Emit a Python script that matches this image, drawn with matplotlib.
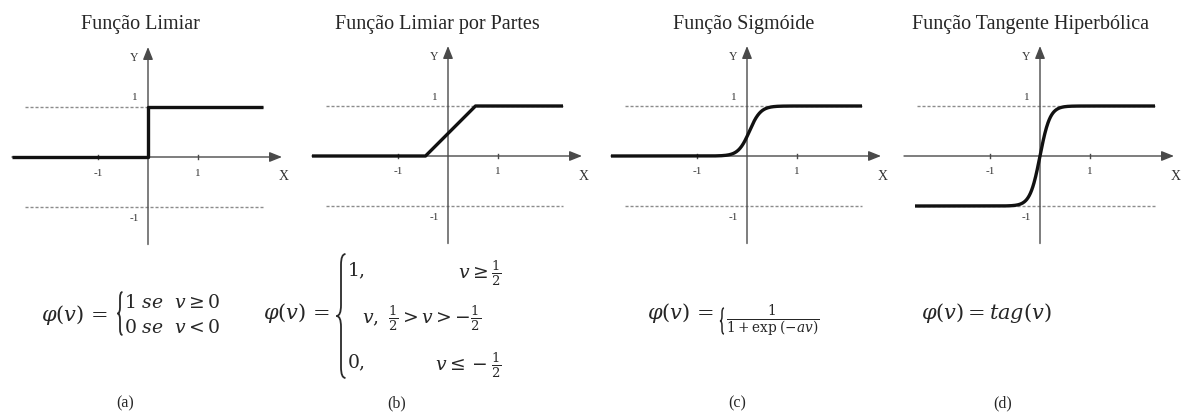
import numpy as np
import matplotlib
matplotlib.use("Agg")
import matplotlib.pyplot as plt
from matplotlib.path import Path
from matplotlib.patches import PathPatch

plt.rcParams["mathtext.fontset"] = "dejavuserif"
plt.rcParams["font.family"] = ["Liberation Serif", "DejaVu Serif"]

W, H = 1181, 414

# ---- data -------------------------------------------------------------
titles = ["Função Limiar", "Função Limiar por Partes",
          "Função Sigmóide", "Função Tangente Hiperbólica"]
panel_tags = ["(a)", "(b)", "(c)", "(d)"]

# threshold (step) function: breakpoints
step_x = [-2.72, 0.0, 0.0, 2.3]
step_y = [0.0, 0.0, 1.0, 1.0]

# piecewise-linear function: breakpoints
ramp_x = [-2.72, -0.45, 0.55, 2.3]
ramp_y = [0.0, 0.0, 1.0, 1.0]

# sigmoid: slope parameter and centre
sig_a, sig_c = 9.0, 0.05
sig_range = (-2.72, 2.3)

# hyperbolic tangent: slope parameter
tanh_k = 5.0
tanh_range = (-2.5, 2.3)

x_ticks = [-1, 1]
y_ticks = [-1, 1]

# ---- layout helpers ---------------------------------------------------
UNIT = 50.0                      # pixels per data unit
XLIM = (-2.9, 2.9)
YLIM = (-1.9, 2.45)


def fx(x):
    return x / W


def fy(y):
    return 1 - y / H


def make_axes(fig, ox, oy):
    left = ox + XLIM[0] * UNIT
    bottom = (H - oy) + YLIM[0] * UNIT
    ax = fig.add_axes([left / W, bottom / H,
                       (XLIM[1] - XLIM[0]) * UNIT / W,
                       (YLIM[1] - YLIM[0]) * UNIT / H])
    ax.set_xlim(*XLIM)
    ax.set_ylim(*YLIM)
    ax.axis("off")
    return ax


def draw_frame(ax, ylab="Y"):
    axis_col = "#4a4a4a"
    lab_col = "#333333"
    # dashed guides at +-1
    for yv in y_ticks:
        ax.plot([-2.45, 2.3], [yv, yv], color="#8c8c8c", lw=1.0,
                dashes=(2.2, 1.4), zorder=1)
    # axes with arrow heads
    ax.annotate("", xy=(2.68, 0), xytext=(-2.72, 0),
                arrowprops=dict(arrowstyle="-|>,head_length=0.75,head_width=0.3",
                                color=axis_col, lw=1.0, shrinkA=0, shrinkB=0),
                zorder=2)
    ax.annotate("", xy=(0, 2.2), xytext=(0, -1.75),
                arrowprops=dict(arrowstyle="-|>,head_length=0.75,head_width=0.3",
                                color=axis_col, lw=1.0, shrinkA=0, shrinkB=0),
                zorder=2)
    for xv in x_ticks:
        ax.plot([xv, xv], [-0.04, 0.04], color=axis_col, lw=1.0, zorder=2)
        ax.text(xv, -0.3, "-1" if xv < 0 else "1", fontsize=8,
                color=lab_col, ha="center", va="center")
    ax.text(-0.26, 1.2, "1", fontsize=8, color=lab_col,
            ha="center", va="center")
    ax.text(-0.28, -1.22, "-1", fontsize=8, color=lab_col,
            ha="center", va="center")
    ax.text(-0.28, 2.0, ylab, fontsize=8.5, color=lab_col,
            ha="center", va="center")
    ax.text(2.72, -0.38, "X", fontsize=10, color=lab_col,
            ha="center", va="center")


def brace(fig, xc, yt, yb, w, lw=1.3):
    """Left curly brace drawn in figure pixel space."""
    ym = (yt + yb) / 2
    r = min(w * 1.2, (yb - yt) / 4)
    xr, xl = xc + w / 2, xc - w / 2
    pts = [(xr, yt), (xc, yt), (xc, yt + r),
           (xc, ym - r), (xc, ym), (xl, ym),
           (xc, ym), (xc, ym + r),
           (xc, yb - r), (xc, yb), (xr, yb)]
    codes = [Path.MOVETO, Path.CURVE3, Path.CURVE3,
             Path.LINETO, Path.CURVE3, Path.CURVE3,
             Path.CURVE3, Path.CURVE3,
             Path.LINETO, Path.CURVE3, Path.CURVE3]
    verts = [(fx(x), fy(y)) for x, y in pts]
    patch = PathPatch(Path(verts, codes), fill=False, lw=lw,
                      edgecolor="#2a2a2a", transform=fig.transFigure)
    fig.add_artist(patch)


# ---- figure -----------------------------------------------------------
fig = plt.figure(figsize=(W / 100, H / 100), dpi=100)
fig.patch.set_facecolor("white")

origins = [(148, 158), (448, 157), (747, 157), (1040, 157)]
title_x = [140, 437, 744, 1030]
tag_x = [125, 397, 737, 1003]

axes = [make_axes(fig, ox, oy) for ox, oy in origins]
for ax in axes:
    draw_frame(ax)

curve_kw = dict(color="#111111", lw=2.4, zorder=3, solid_capstyle="butt")
axes[0].plot(step_x, step_y, **curve_kw)
axes[1].plot(ramp_x, ramp_y, **curve_kw)
v = np.linspace(*sig_range, 600)
axes[2].plot(v, 1 / (1 + np.exp(-sig_a * (v - sig_c))), **curve_kw)
v = np.linspace(*tanh_range, 600)
axes[3].plot(v, np.tanh(tanh_k * v), **curve_kw)

txt_col = "#262626"
for t, x in zip(titles, title_x):
    fig.text(fx(x), fy(25), t, fontsize=14.5, color=txt_col,
             ha="center", va="center")
for t, x in zip(panel_tags, tag_x):
    fig.text(fx(x), fy(403), t, fontsize=11.5, color=txt_col,
             ha="center", va="center")

FS = 15
RS = 13.5
# (a)
fig.text(fx(41), fy(315), r"$\varphi(v)\,=$", fontsize=FS, color=txt_col,
         ha="left", va="center")
brace(fig, 120, 293, 336, 5)
fig.text(fx(124), fy(303), r"$1\ se\ \ v \geq 0$", fontsize=RS,
         color=txt_col, ha="left", va="center")
fig.text(fx(124), fy(328), r"$0\ se\ \ v < 0$", fontsize=RS,
         color=txt_col, ha="left", va="center")

# (b)
fig.text(fx(263), fy(313), r"$\varphi(v)\,=$", fontsize=FS, color=txt_col,
         ha="left", va="center")
brace(fig, 341, 255, 379, 9)
fig.text(fx(347), fy(271), r"$1,$", fontsize=RS, color=txt_col,
         ha="left", va="center")
fig.text(fx(502), fy(273), r"$v \geq \frac{1}{2}$", fontsize=RS,
         color=txt_col, ha="right", va="center")
fig.text(fx(362), fy(318), r"$v,\ \frac{1}{2} > v > -\frac{1}{2}$",
         fontsize=RS, color=txt_col, ha="left", va="center")
fig.text(fx(347), fy(363), r"$0,$", fontsize=RS, color=txt_col,
         ha="left", va="center")
fig.text(fx(502), fy(365), r"$v \leq -\frac{1}{2}$", fontsize=RS,
         color=txt_col, ha="right", va="center")

# (c)
fig.text(fx(647), fy(313), r"$\varphi(v)\,=$", fontsize=FS, color=txt_col,
         ha="left", va="center")
brace(fig, 722, 309, 335, 4, lw=1.1)
fig.text(fx(726), fy(321), r"$\frac{1}{1+\mathrm{exp}\;(-av)}$",
         fontsize=14, color=txt_col, ha="left", va="center")

# (d)
fig.text(fx(921), fy(313), r"$\varphi(v) = tag(v)$", fontsize=FS,
         color=txt_col, ha="left", va="center")

fig.savefig("out.png", dpi=100, facecolor="white")
